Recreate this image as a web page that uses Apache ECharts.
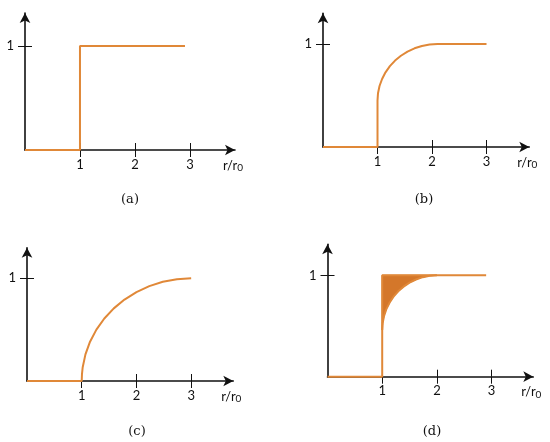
<!DOCTYPE html>
<html>
<head>
<meta charset="utf-8">
<script src="https://cdn.jsdelivr.net/npm/echarts@6/dist/echarts.min.js"></script>
<style>html,body{margin:0;padding:0;background:#fff}#c{width:550px;height:442px}</style>
</head>
<body>
<div id="c"></div>
<script>
// ---- data ----
const captions = ['(a)', '(b)', '(c)', '(d)'];
const xTickValues = [1, 2, 3];
const yTickValues = [1];
// panel (a): step profile
const profileA = [[0, 0], [1, 0], [1, 1], [2.91, 1]];
// panel (b): jump to ~0.45 then rounded rise to 1 near r/r0 = 2.1
const profileB = [[0, 0], [1, 0], [1.000, 0.450], [1.009, 0.522], [1.037, 0.592], [1.084, 0.660],
  [1.147, 0.725], [1.227, 0.785], [1.322, 0.839], [1.430, 0.886], [1.550, 0.926], [1.679, 0.958],
  [1.815, 0.981], [1.956, 0.995], [2.100, 1.000], [3.0, 1.0]];
// panel (c): smooth rise from 0 at r/r0 = 1 to 1 at r/r0 = 3
const profileC = [[0, 0], [1, 0], [1.005, 0.070], [1.017, 0.131], [1.068, 0.259], [1.152, 0.383],
  [1.268, 0.500], [1.413, 0.609], [1.586, 0.707], [1.782, 0.793], [2.000, 0.866], [2.235, 0.924],
  [2.482, 0.966], [2.739, 0.991], [3.0, 1.0]];
// panel (d): like (b) with the gap to 1 shaded
const curveD = [[1.000, 0.460], [1.009, 0.530], [1.034, 0.600], [1.076, 0.667], [1.134, 0.730],
  [1.207, 0.789], [1.293, 0.842], [1.391, 0.888], [1.500, 0.928], [1.617, 0.959], [1.741, 0.982],
  [1.869, 0.995], [2.000, 1.000]];
const profileD = [[0, 0], [1, 0]].concat(curveD);
const edgeD = [[1, 0.46], [1, 1], [2.9, 1]];
const shadeD = curveD.concat([[1, 1]]);

// ---- layout (pixels) ----
const layout = [
  {left: 25, top: 13, width: 210, height: 137, xMax: 3.82, yMax: 1.317, cap: [130, 200]},
  {left: 323, top: 13.3, width: 206.3, height: 133.7, xMax: 3.785, yMax: 1.298, cap: [424, 200]},
  {left: 27, top: 247.7, width: 206.3, height: 133.3, xMax: 3.77, yMax: 1.298, cap: [137, 432]},
  {left: 327.5, top: 244.3, width: 205.8, height: 132.4, xMax: 3.762, yMax: 1.306, cap: [432, 432]}
];

const lineColor = '#E08838';
const fillColor = '#D4772A';
const axisColor = '#111';
const labelFont = 'Lato, "Open Sans", sans-serif';

const grid = [], xAxis = [], yAxis = [], series = [], graphic = [];
layout.forEach(function (L, i) {
  grid.push({left: L.left, top: L.top, width: L.width, height: L.height, containLabel: false});
  xAxis.push({
    type: 'value', gridIndex: i, min: 0, max: L.xMax, position: 'bottom',
    axisLine: {show: true, onZero: false, symbol: ['none', 'arrow'], symbolSize: [8, 10],
      lineStyle: {color: axisColor, width: 1.6}},
    axisTick: {show: true, inside: false, length: 7, customValues: xTickValues, lineStyle: {color: axisColor, width: 1}},
    axisLabel: {show: true, margin: 8, customValues: xTickValues, color: '#111', fontFamily: labelFont, fontSize: 13},
    splitLine: {show: false},
    name: '{a|r/r}{s|0}', nameLocation: 'end', nameGap: -2,
    nameTextStyle: {align: 'center', verticalAlign: 'top', padding: [8, 0, 0, 0],
      rich: {a: {fontFamily: labelFont, fontSize: 13, color: '#111'},
             s: {fontFamily: labelFont, fontSize: 10, color: '#111', padding: [5, 0, 0, 0]}}}
  });
  xAxis.push({
    type: 'value', gridIndex: i, min: 0, max: L.xMax, position: 'bottom',
    axisLine: {show: false, onZero: false},
    axisTick: {show: true, inside: true, length: 7, customValues: xTickValues, lineStyle: {color: axisColor, width: 1}},
    axisLabel: {show: false}, splitLine: {show: false}
  });
  yAxis.push({
    type: 'value', gridIndex: i, min: 0, max: L.yMax, position: 'left',
    axisLine: {show: true, onZero: false, symbol: ['none', 'arrow'], symbolSize: [8, 10],
      lineStyle: {color: axisColor, width: 1.6}},
    axisTick: {show: true, inside: false, length: 7, customValues: yTickValues, lineStyle: {color: axisColor, width: 1}},
    axisLabel: {show: true, margin: 11, customValues: yTickValues, color: '#111', fontFamily: labelFont, fontSize: 13},
    splitLine: {show: false}
  });
  yAxis.push({
    type: 'value', gridIndex: i, min: 0, max: L.yMax, position: 'left',
    axisLine: {show: false, onZero: false},
    axisTick: {show: true, inside: true, length: 7, customValues: yTickValues, lineStyle: {color: axisColor, width: 1}},
    axisLabel: {show: false}, splitLine: {show: false}
  });
  graphic.push({type: 'text', x: L.cap[0], y: L.cap[1], silent: true,
    style: {text: captions[i], x: 0, y: 0, align: 'center', verticalAlign: 'middle',
      font: '13px "DejaVu Serif", "Liberation Serif", serif', fill: '#111'}});
});

function lineSeries(data, i) {
  return {type: 'line', xAxisIndex: 2 * i, yAxisIndex: 2 * i, data: data, showSymbol: false,
    symbol: 'none', z: 3, lineStyle: {color: lineColor, width: 2}, itemStyle: {color: lineColor},
    clip: false, animation: false};
}
series.push(lineSeries(profileA, 0));
series.push(lineSeries(profileB, 1));
series.push(lineSeries(profileC, 2));
series.push({
  type: 'custom', xAxisIndex: 6, yAxisIndex: 6, z: 2, animation: false, clip: false,
  data: [[1, 1]],
  renderItem: function (params, api) {
    return {type: 'polygon', shape: {points: shadeD.map(function (p) { return api.coord(p); })},
      style: {fill: fillColor, stroke: fillColor, lineWidth: 1}};
  }
});
series.push(lineSeries(profileD, 3));
series.push(lineSeries(edgeD, 3));

const chart = echarts.init(document.getElementById('c'), null, {renderer: 'canvas'});
chart.setOption({animation: false, grid: grid, xAxis: xAxis, yAxis: yAxis, series: series, graphic: graphic});
</script>
</body>
</html>
